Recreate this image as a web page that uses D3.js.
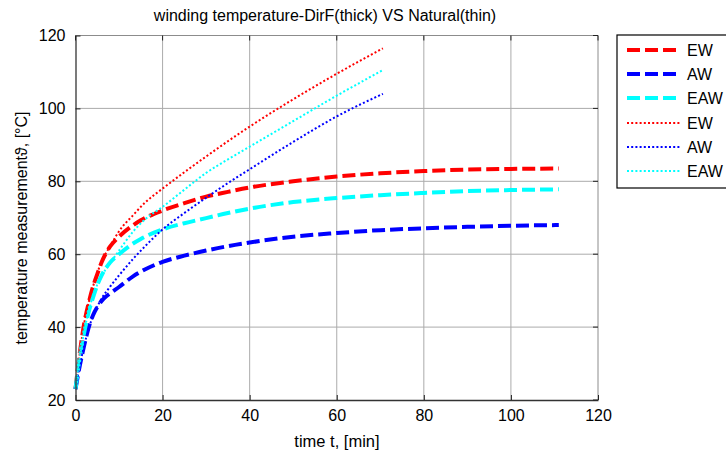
<!DOCTYPE html>
<html>
<head>
<meta charset="utf-8">
<script src="https://cdn.jsdelivr.net/npm/d3@7"></script>
<style>
  html, body { margin: 0; padding: 0; background: #fff; }
  svg { display: block; font-family: "Liberation Sans", Arial, sans-serif; }
</style>
</head>
<body>
<svg id="chart" width="726" height="457"></svg>
<script>
// Winding temperature rise: directed flow (thick dashed) vs natural cooling (thin dotted)
const titleText = "winding temperature-DirF(thick) VS Natural(thin)";
const xLabel = "time t, [min]";
const yLabel = "temperature measurementϑ, [°C]";
const xTicks = [0, 20, 40, 60, 80, 100, 120];
const yTicks = [20, 40, 60, 80, 100, 120];

// time [min], temperature [°C] — directed flow
const tDirF   = [0, 1, 2, 3, 4, 5, 6, 7, 8, 10, 13.3, 15, 20, 25, 30, 35, 40, 50, 60, 70, 80, 90, 100, 111];
const ewDirF  = [23, 33, 41, 46.5, 51, 54.5, 57.8, 60.3, 62.2, 64.8, 68, 69.3, 72, 74, 75.8, 77.1, 78.3, 80, 81.3, 82.2, 82.8, 83.2, 83.4, 83.5];
const awDirF  = [23, 29.5, 35, 39.8, 43.2, 45.5, 47.2, 48.4, 49.3, 51, 54, 55.2, 57.9, 59.6, 61, 62.2, 63.2, 64.8, 65.8, 66.6, 67.1, 67.5, 67.8, 68];
const eawDirF = [23, 32, 38.5, 44, 48, 51.5, 54.2, 56.2, 57.8, 60, 63, 64.2, 66.8, 68.5, 69.9, 71.3, 72.5, 74.3, 75.4, 76.2, 76.8, 77.3, 77.6, 77.8];

// time [min], temperature [°C] — natural cooling
const tNat   = [0, 1, 2, 4, 6, 8, 10, 13.3, 16, 20, 25, 30, 35, 40, 50, 60, 70.6];
const ewNat  = [23, 33, 41, 51, 58, 62.3, 66.3, 70.8, 74.2, 78, 82.5, 86.8, 91, 95, 102.5, 109.5, 116.5];
const awNat  = [23, 29.5, 35, 43, 47.8, 51.2, 54.2, 58.8, 62.2, 66.8, 71.3, 75.5, 79.5, 83.3, 90.8, 97.8, 104];
const eawNat = [23, 32, 38.8, 48.5, 54, 57.6, 61, 66.3, 69.6, 73, 77.7, 82.3, 86, 89.5, 96.5, 103.5, 110.5];

const seriesNames = ["EW", "AW", "EAW", "EW", "AW", "EAW"];
const seriesColors = ["#ff0000", "#0000ff", "#00ffff", "#ff0000", "#0000ff", "#00ffff"];

const series = [
  { t: tDirF, v: ewDirF,  thick: true },
  { t: tDirF, v: awDirF,  thick: true },
  { t: tDirF, v: eawDirF, thick: true },
  { t: tNat,  v: ewNat,   thick: false },
  { t: tNat,  v: awNat,   thick: false },
  { t: tNat,  v: eawNat,  thick: false }
].map((s, i) => ({ ...s, name: seriesNames[i], color: seriesColors[i] }));

const svg = d3.select("#chart");
const plot = { left: 75.5, right: 598, top: 35.5, bottom: 400 };

const x = d3.scaleLinear().domain([0, 120]).range([plot.left, plot.right]);
const y = d3.scaleLinear().domain([20, 120]).range([plot.bottom, plot.top]);

// grid
const grid = svg.append("g").attr("stroke", "#ababab").attr("stroke-width", 1);
xTicks.slice(1, -1).forEach(v => {
  grid.append("line").attr("x1", x(v)).attr("x2", x(v))
    .attr("y1", plot.top).attr("y2", plot.bottom);
});
yTicks.slice(1, -1).forEach(v => {
  grid.append("line").attr("x1", plot.left).attr("x2", plot.right)
    .attr("y1", y(v)).attr("y2", y(v));
});

// box edges (top/right lighter)
svg.append("line").attr("x1", plot.left).attr("x2", plot.right).attr("y1", plot.top).attr("y2", plot.top)
  .attr("stroke", "#8c8c8c");
svg.append("line").attr("x1", plot.right).attr("x2", plot.right).attr("y1", plot.top).attr("y2", plot.bottom)
  .attr("stroke", "#8c8c8c");

// curves
const line = d3.line().curve(d3.curveMonotoneX);
const curves = svg.append("g").attr("fill", "none");
series.forEach(s => {
  const pts = s.t.map((t, i) => [x(t), y(s.v[i])]);
  curves.append("path")
    .attr("d", line(pts))
    .attr("stroke", s.color)
    .attr("stroke-width", s.thick ? 4 : 2)
    .attr("stroke-dasharray", s.thick ? "13,5" : "2,2.2")
    .attr("stroke-linecap", "butt");
});

// axes
const fontSize = 16;
const xAxis = d3.axisBottom(x).tickValues(xTicks).tickSizeInner(-5).tickSizeOuter(0).tickPadding(10);
const yAxis = d3.axisLeft(y).tickValues(yTicks).tickSizeInner(-5).tickSizeOuter(0).tickPadding(10);
const gx = svg.append("g").attr("transform", `translate(0,${plot.bottom})`).call(xAxis);
const gy = svg.append("g").attr("transform", `translate(${plot.left},0)`).call(yAxis);
[gx, gy].forEach(g => {
  g.select(".domain").attr("stroke", "#333").attr("stroke-width", 1.3);
  g.selectAll(".tick line").attr("stroke", "#222");
  g.selectAll(".tick text").attr("font-size", fontSize).attr("fill", "#000")
    .attr("font-family", "Liberation Sans, Arial, sans-serif");
});
// ticks on the top and right edges
const edgeTicks = svg.append("g").attr("stroke", "#222");
xTicks.forEach(v => edgeTicks.append("line").attr("x1", x(v)).attr("x2", x(v)).attr("y1", plot.top).attr("y2", plot.top + 5));
yTicks.forEach(v => edgeTicks.append("line").attr("x1", plot.right).attr("x2", plot.right - 5).attr("y1", y(v)).attr("y2", y(v)));

// title and axis labels
svg.append("text").attr("x", 325).attr("y", 21).attr("text-anchor", "middle")
  .attr("font-size", 16).text(titleText);
svg.append("text").attr("x", 337).attr("y", 447).attr("text-anchor", "middle")
  .attr("font-size", 16.5).text(xLabel);
svg.append("text").attr("transform", `translate(27,228) rotate(-90)`)
  .attr("text-anchor", "middle").attr("font-size", fontSize).text(yLabel);

// legend
const lg = svg.append("g");
lg.append("rect").attr("x", 617).attr("y", 35).attr("width", 120).attr("height", 153)
  .attr("fill", "#fff").attr("stroke", "#000").attr("stroke-width", 1.2);
const rowY = [50, 74, 98, 123, 147, 171];
series.forEach((s, i) => {
  lg.append("line").attr("x1", 627).attr("x2", 680).attr("y1", rowY[i]).attr("y2", rowY[i])
    .attr("stroke", s.color)
    .attr("stroke-width", s.thick ? 4 : 2)
    .attr("stroke-dasharray", s.thick ? "13,5" : "2,2.2");
  lg.append("text").attr("x", 687).attr("y", rowY[i] + 6).attr("font-size", fontSize).text(s.name);
});
</script>
</body>
</html>
